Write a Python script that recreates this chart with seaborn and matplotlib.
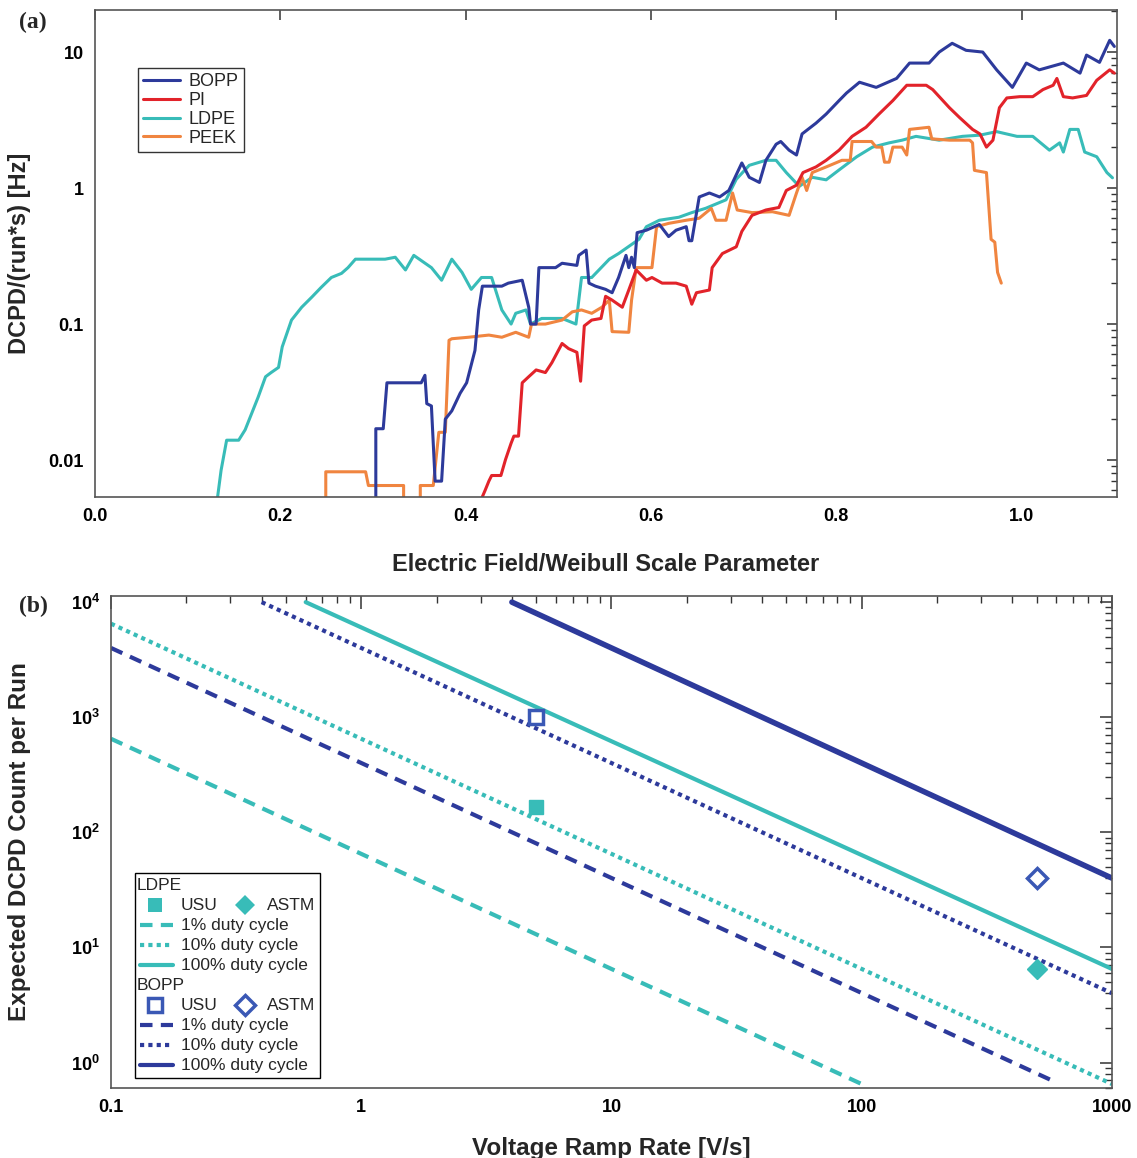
import matplotlib
matplotlib.use("Agg")
import matplotlib.pyplot as plt
import seaborn as sns
import numpy as np
from matplotlib.lines import Line2D
from matplotlib.patches import Rectangle
from matplotlib.ticker import FixedLocator, LogLocator, NullFormatter, FuncFormatter

# ---- panel (a): DCPD rate vs normalised field ----
ldpe_x = [0.132, 0.136, 0.142, 0.155, 0.162, 0.176, 0.184, 0.19, 0.198, 0.202, 0.212, 0.223, 0.234,
          0.244, 0.255, 0.266, 0.273, 0.281, 0.295, 0.313, 0.324, 0.335, 0.344, 0.353, 0.363, 0.374,
          0.385, 0.396, 0.406, 0.417, 0.428, 0.439, 0.449, 0.454, 0.465, 0.47, 0.482, 0.504, 0.519,
          0.525, 0.536, 0.555, 0.565, 0.587, 0.595, 0.609, 0.63, 0.644, 0.659, 0.681, 0.692, 0.706,
          0.724, 0.735, 0.746, 0.76, 0.774, 0.789, 0.803, 0.822, 0.839, 0.857, 0.871, 0.886, 0.911,
          0.936, 0.955, 0.973, 0.995, 1.012, 1.03, 1.041, 1.045, 1.052, 1.061, 1.068, 1.081, 1.092, 1.098]
ldpe_y = [0.0052, 0.0084, 0.014, 0.014, 0.0167, 0.029, 0.041, 0.044, 0.048, 0.068, 0.107, 0.133, 0.158,
          0.186, 0.22, 0.236, 0.26, 0.30, 0.30, 0.30, 0.31, 0.25, 0.32, 0.29, 0.26, 0.21,
          0.30, 0.24, 0.18, 0.22, 0.22, 0.127, 0.10, 0.12, 0.127, 0.10, 0.11, 0.11, 0.10,
          0.22, 0.22, 0.30, 0.33, 0.42, 0.52, 0.58, 0.61, 0.66, 0.71, 0.82, 1.16, 1.47,
          1.6, 1.6, 1.3, 1.03, 1.2, 1.15, 1.36, 1.7, 2.0, 2.15, 2.25, 2.4, 2.25,
          2.4, 2.45, 2.6, 2.4, 2.4, 1.9, 2.15, 1.84, 2.7, 2.7, 1.84, 1.7, 1.3, 1.19]

bopp_x = [0.303, 0.303, 0.311, 0.315, 0.352, 0.356, 0.358, 0.363, 0.367, 0.374, 0.378, 0.385, 0.394,
          0.401, 0.41, 0.414, 0.418, 0.428, 0.439, 0.446, 0.461, 0.468, 0.47, 0.476, 0.479, 0.497,
          0.504, 0.52, 0.522, 0.53, 0.533, 0.54, 0.551, 0.558, 0.565, 0.573, 0.576, 0.579, 0.582,
          0.585, 0.595, 0.609, 0.619, 0.627, 0.638, 0.641, 0.644, 0.652, 0.663, 0.674, 0.684, 0.698,
          0.706, 0.717, 0.724, 0.735, 0.74, 0.749, 0.757, 0.763, 0.778, 0.789, 0.803, 0.811, 0.825,
          0.843, 0.865, 0.879, 0.9, 0.911, 0.925, 0.94, 0.958, 0.973, 0.99, 1.005, 1.019, 1.045,
          1.063, 1.07, 1.084, 1.095, 1.1]
bopp_y = [0.004, 0.017, 0.017, 0.037, 0.037, 0.042, 0.026, 0.025, 0.007, 0.007, 0.02, 0.023, 0.031,
          0.037, 0.064, 0.127, 0.19, 0.19, 0.19, 0.2, 0.21, 0.133, 0.1, 0.1, 0.26, 0.26,
          0.28, 0.27, 0.32, 0.35, 0.2, 0.19, 0.18, 0.17, 0.22, 0.32, 0.26, 0.31, 0.26,
          0.47, 0.49, 0.54, 0.44, 0.49, 0.52, 0.41, 0.41, 0.86, 0.92, 0.86, 0.96, 1.53,
          1.2, 1.1, 1.6, 2.1, 2.2, 1.9, 1.75, 2.5, 3.0, 3.5, 4.4, 5.0, 6.0,
          5.5, 6.4, 8.3, 8.3, 10, 11.6, 10.3, 10, 7.4, 5.5, 8.3, 7.4, 8.3,
          7.0, 9.5, 8.4, 12.2, 11]

pi_x = [0.416, 0.421, 0.425, 0.428, 0.438, 0.443, 0.449, 0.452, 0.457, 0.461, 0.468, 0.476, 0.486,
        0.493, 0.504, 0.511, 0.52, 0.524, 0.528, 0.536, 0.546, 0.551, 0.558, 0.569, 0.576, 0.584,
        0.595, 0.601, 0.612, 0.627, 0.638, 0.644, 0.649, 0.663, 0.666, 0.677, 0.692, 0.698, 0.709,
        0.724, 0.738, 0.746, 0.757, 0.764, 0.778, 0.789, 0.803, 0.817, 0.832, 0.846, 0.861, 0.876,
        0.897, 0.904, 0.922, 0.933, 0.947, 0.955, 0.962, 0.969, 0.976, 0.984, 0.998, 1.012, 1.023,
        1.034, 1.038, 1.045, 1.055, 1.07, 1.081, 1.095, 1.1]
pi_y = [0.005, 0.006, 0.007, 0.0077, 0.0077, 0.0101, 0.0133, 0.015, 0.015, 0.037, 0.041, 0.046, 0.044,
        0.052, 0.072, 0.066, 0.062, 0.038, 0.097, 0.107, 0.11, 0.16, 0.15, 0.133, 0.178, 0.25,
        0.21, 0.22, 0.2, 0.2, 0.19, 0.14, 0.17, 0.178, 0.26, 0.33, 0.37, 0.48, 0.63,
        0.69, 0.72, 0.96, 1.05, 1.3, 1.43, 1.6, 1.9, 2.4, 2.8, 3.5, 4.4, 5.7,
        5.7, 5.3, 3.9, 3.3, 2.7, 2.5, 2.0, 2.25, 3.9, 4.6, 4.7, 4.7, 5.3,
        5.7, 6.4, 4.7, 4.6, 4.8, 6.2, 7.4, 7.0]

peek_x = [0.249, 0.249, 0.292, 0.295, 0.333, 0.333, 0.351, 0.351, 0.365, 0.371, 0.378, 0.382, 0.385,
          0.403, 0.425, 0.439, 0.454, 0.468, 0.471, 0.486, 0.504, 0.515, 0.525, 0.536, 0.547, 0.555,
          0.558, 0.576, 0.579, 0.584, 0.601, 0.606, 0.619, 0.638, 0.652, 0.665, 0.67, 0.681, 0.688,
          0.693, 0.709, 0.731, 0.749, 0.757, 0.763, 0.768, 0.774, 0.789, 0.806, 0.815, 0.817, 0.838,
          0.843, 0.849, 0.852, 0.857, 0.861, 0.871, 0.876, 0.879, 0.9, 0.903, 0.922, 0.944, 0.947,
          0.949, 0.962, 0.967, 0.971, 0.974, 0.978]
peek_y = [0.004, 0.0082, 0.0082, 0.0065, 0.0065, 0.004, 0.004, 0.0065, 0.0065, 0.016, 0.016, 0.076, 0.078,
          0.08, 0.083, 0.08, 0.087, 0.08, 0.1, 0.1, 0.107, 0.123, 0.127, 0.12, 0.133, 0.15,
          0.088, 0.087, 0.15, 0.26, 0.26, 0.52, 0.55, 0.58, 0.6, 0.71, 0.58, 0.58, 0.92,
          0.69, 0.66, 0.67, 0.63, 0.92, 1.2, 0.96, 1.3, 1.43, 1.6, 1.6, 2.2, 2.2,
          2.0, 2.0, 1.55, 1.55, 2.0, 2.0, 1.75, 2.7, 2.8, 2.3, 2.25, 2.25, 2.15,
          1.35, 1.3, 0.42, 0.40, 0.24, 0.2]

# ---- panel (b): expected count vs ramp rate (line end points) ----
ldpe_1_x, ldpe_1_y = [0.1, 100], [650, 0.65]
ldpe_10_x, ldpe_10_y = [0.1, 1000], [6500, 0.65]
ldpe_100_x, ldpe_100_y = [0.6, 1000], [10000, 6.5]
bopp_1_x, bopp_1_y = [0.1, 600], [4000, 0.67]
bopp_10_x, bopp_10_y = [0.4, 1000], [10000, 4]
bopp_100_x, bopp_100_y = [4, 1000], [10000, 40]
usu_rate, astm_rate = 5, 500
ldpe_usu, ldpe_astm = 165, 6.5
bopp_usu, bopp_astm = 1000, 40

c_bopp = '#2d3a9b'
c_pi = '#e2232a'
c_ldpe = '#38bcb8'
c_peek = '#f08540'
c_bopp_pt = '#3a58b5'

sns.set_style("white")
plt.rcParams['font.family'] = ['Liberation Sans', 'DejaVu Sans']
plt.rcParams['mathtext.fontset'] = 'custom'
plt.rcParams['mathtext.rm'] = 'Liberation Sans'
plt.rcParams['mathtext.bf'] = 'Liberation Sans:bold'
plt.rcParams['axes.edgecolor'] = '#555555'
plt.rcParams['axes.linewidth'] = 1.2

fig = plt.figure(figsize=(11.37, 11.58), dpi=100)
ax1 = fig.add_axes([0.0836, 0.5708, 0.8989, 0.4206])
ax2 = fig.add_axes([0.0976, 0.0604, 0.8804, 0.4249])

# panel (a)
ax1.set_yscale('log')
sns.lineplot(x=ldpe_x, y=ldpe_y, ax=ax1, color=c_ldpe, lw=2.2, sort=False, estimator=None, label='LDPE')
sns.lineplot(x=peek_x, y=peek_y, ax=ax1, color=c_peek, lw=2.2, sort=False, estimator=None, label='PEEK')
sns.lineplot(x=pi_x, y=pi_y, ax=ax1, color=c_pi, lw=2.2, sort=False, estimator=None, label='PI')
sns.lineplot(x=bopp_x, y=bopp_y, ax=ax1, color=c_bopp, lw=2.2, sort=False, estimator=None, label='BOPP')
ax1.set_xlim(0, 1.103)
ax1.set_ylim(0.00535, 20.4)
ax1.xaxis.set_major_locator(FixedLocator([0.0, 0.2, 0.4, 0.6, 0.8, 1.0]))
ax1.xaxis.set_major_formatter(FuncFormatter(lambda v, p: f'{v:.1f}'))
ax1.yaxis.set_major_locator(FixedLocator([0.01, 0.1, 1, 10]))
ax1.yaxis.set_major_formatter(FuncFormatter(lambda v, p: f'{v:g}'))
ax1.yaxis.set_minor_locator(LogLocator(base=10, subs=np.arange(2, 10)))
ax1.yaxis.set_minor_formatter(NullFormatter())
ax1.tick_params(which='both', direction='in', top=True, right=True, colors='#333333',
                labelcolor='black', labelsize=13)
ax1.tick_params(which='major', length=7, width=1.1, pad=8)
ax1.tick_params(which='minor', length=4, width=1.0)
for lab in ax1.get_xticklabels() + ax1.get_yticklabels():
    lab.set_fontweight('bold')
ax1.set_xlabel('Electric Field/Weibull Scale Parameter', fontsize=17, fontweight='bold')
ax1.set_ylabel('DCPD/(run*s) [Hz]', fontsize=17, fontweight='bold')
ax1.xaxis.set_label_coords(0.5, -0.115)
ax1.yaxis.set_label_coords(-0.063, 0.5)
h, l = ax1.get_legend_handles_labels()
order = [l.index(n) for n in ['BOPP', 'PI', 'LDPE', 'PEEK']]
leg = ax1.legend([h[i] for i in order], [l[i] for i in order], loc='upper left',
                 bbox_to_anchor=(0.042, 0.881), borderaxespad=0, fontsize=13, frameon=True,
                 fancybox=False, edgecolor='black', handlelength=2.0, labelspacing=0.1,
                 borderpad=0.3, handletextpad=0.5)
leg.get_frame().set_linewidth(1.0)

# panel (b)
ax2.set_xscale('log')
ax2.set_yscale('log')
sns.lineplot(x=ldpe_1_x, y=ldpe_1_y, ax=ax2, color=c_ldpe, lw=3, ls=(0, (3, 2)))
sns.lineplot(x=ldpe_10_x, y=ldpe_10_y, ax=ax2, color=c_ldpe, lw=3, ls=(0, (1, 1)))
sns.lineplot(x=ldpe_100_x, y=ldpe_100_y, ax=ax2, color=c_ldpe, lw=3)
sns.lineplot(x=bopp_1_x, y=bopp_1_y, ax=ax2, color=c_bopp, lw=3, ls=(0, (3, 2)))
sns.lineplot(x=bopp_10_x, y=bopp_10_y, ax=ax2, color=c_bopp, lw=3, ls=(0, (1, 1)))
sns.lineplot(x=bopp_100_x, y=bopp_100_y, ax=ax2, color=c_bopp, lw=4)
ax2.plot([usu_rate], [ldpe_usu], marker='s', ms=10, color=c_ldpe, ls='none')
ax2.plot([astm_rate], [ldpe_astm], marker='D', ms=10, color=c_ldpe, ls='none')
ax2.plot([usu_rate], [bopp_usu], marker='s', ms=10, mfc='white', mec=c_bopp_pt, mew=2.5, ls='none')
ax2.plot([astm_rate], [bopp_astm], marker='D', ms=10, mfc='white', mec=c_bopp_pt, mew=2.5, ls='none')
ax2.set_xlim(0.1, 1000)
ax2.set_ylim(0.6, 11300)
ax2.xaxis.set_major_locator(FixedLocator([0.1, 1, 10, 100, 1000]))
ax2.xaxis.set_major_formatter(FuncFormatter(lambda v, p: f'{v:g}'))
ax2.xaxis.set_minor_locator(LogLocator(base=10, subs=np.arange(2, 10)))
ax2.xaxis.set_minor_formatter(NullFormatter())
ax2.yaxis.set_major_locator(FixedLocator([1, 10, 100, 1000, 10000]))
ax2.yaxis.set_major_formatter(FuncFormatter(lambda v, p: r'$\mathbf{10^{%d}}$' % round(np.log10(v))))
ax2.yaxis.set_minor_locator(LogLocator(base=10, subs=np.arange(2, 10)))
ax2.yaxis.set_minor_formatter(NullFormatter())
ax2.tick_params(which='both', direction='in', top=True, right=True, colors='#333333',
                labelcolor='black', labelsize=13)
ax2.tick_params(which='major', length=9, width=1.1, pad=8)
ax2.tick_params(which='minor', length=5, width=1.0)
for lab in ax2.get_xticklabels() + ax2.get_yticklabels():
    lab.set_fontweight('bold')
ax2.set_xlabel('Voltage Ramp Rate [V/s]', fontsize=17.5, fontweight='bold')
ax2.set_ylabel('Expected DCPD Count per Run', fontsize=17.5, fontweight='bold')
ax2.xaxis.set_label_coords(0.5, -0.1)
ax2.yaxis.set_label_coords(-0.08, 0.5)

# grouped legend for panel (b), built by hand
T = ax2.transAxes
ax2.add_patch(Rectangle((0.024, 0.02), 0.185, 0.417, transform=T, fill=True, fc='white',
                        ec='black', lw=1.0, zorder=5))
step = 0.0407
rows = {}
for i in range(10):
    rows[i] = 0.4126 - i * step
kw = dict(transform=T, fontsize=12.5, va='center', zorder=6)
for base, col, mec, filled in [(0, c_ldpe, c_ldpe, True), (5, c_bopp, c_bopp_pt, False)]:
    ax2.text(0.026, rows[base], 'LDPE' if base == 0 else 'BOPP', **kw)
    fc = col if filled else 'white'
    ax2.add_line(Line2D([0.044], [rows[base + 1]], marker='s', ms=10, mfc=fc, mec=mec,
                        mew=0 if filled else 2.5, transform=T, zorder=6))
    ax2.text(0.070, rows[base + 1], 'USU', **kw)
    ax2.add_line(Line2D([0.134], [rows[base + 1]], marker='D', ms=10, mfc=fc, mec=mec,
                        mew=0 if filled else 2.5, transform=T, zorder=6))
    ax2.text(0.156, rows[base + 1], 'ASTM', **kw)
    for j, (ls, txt) in enumerate([((0, (3, 2)), '1% duty cycle'), ((0, (1, 1)), '10% duty cycle'),
                                   ('-', '100% duty cycle')]):
        yy = rows[base + 2 + j]
        ax2.add_line(Line2D([0.029, 0.062], [yy, yy], color=col, lw=3, ls=ls, transform=T, zorder=6))
        ax2.text(0.070, yy, txt, **kw)

fig.text(0.017, 0.981, '(a)', fontsize=17, fontweight='bold', family='Liberation Serif', va='center')
fig.text(0.017, 0.476, '(b)', fontsize=17, fontweight='bold', family='Liberation Serif', va='center')

fig.savefig('out.png', dpi=100)
